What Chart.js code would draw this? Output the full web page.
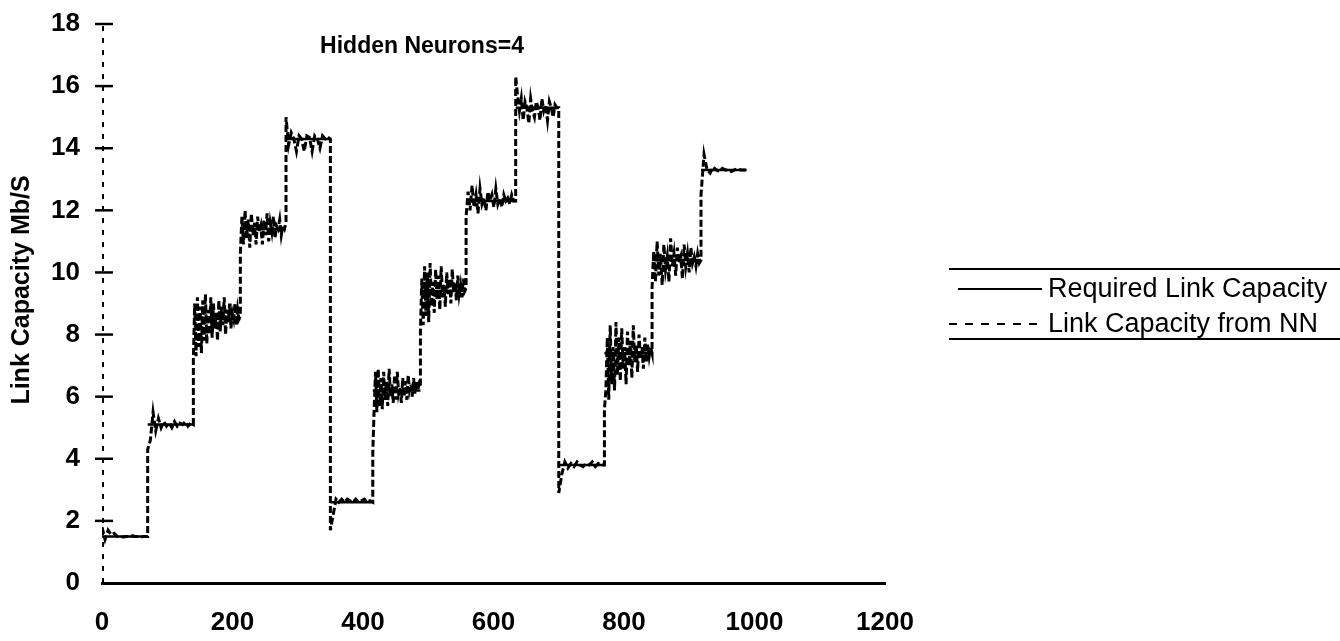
<!DOCTYPE html>
<html>
<head>
<meta charset="utf-8">
<script src="https://cdn.jsdelivr.net/npm/chart.js@4.4.1/dist/chart.umd.min.js"></script>
<style>
  body { margin: 0; background: #fff; }
  #wrap { width: 1340px; height: 641px; position: relative; }
</style>
</head>
<body>
<div id="wrap"><canvas id="myChart"></canvas></div>
<script>
// step start times, last step ends at stepEnd
var stepStart = [0, 70, 140, 212, 282, 350, 415, 488, 558, 634, 700, 770, 843, 918];
var stepEnd = 988;
// required link capacity for each step (Mb/S)
var required = [1.5, 5.1, 8.5, 11.4, 14.3, 2.6, 6.2, 9.4, 12.3, 15.3, 3.8, 7.4, 10.4, 13.3];
// NN output samples
var nn1 = [1.8, 1.4, 1.7, 1.55, 1.6, 1.5, 1.5, 1.48, 1.5, 1.5, 1.52, 1.5, 1.5, 1.49, 1.5, 1.5];
var nn2 = [4.3, 4.6, 5.5, 4.9, 5.3, 5.0, 5.2, 5.05, 5.15, 5.0, 5.2, 5.05, 5.15, 5.1, 5.2, 5.05, 5.15, 5.1];
var nn3 = [7.2, 9.0, 7.3, 9.2, 7.6, 8.9, 7.4, 9.1, 7.8, 9.3, 7.7, 8.8, 8.0, 9.2, 7.9, 9.0, 8.2, 8.7, 7.8, 9.1, 8.1, 8.9, 8.3, 9.2, 8.0, 8.8, 8.4, 9.0, 8.2, 8.7, 8.5, 9.0, 8.3, 8.8, 8.5, 8.6];
var nn4 = [10.6, 11.8, 10.9, 12.0, 11.1, 11.7, 10.8, 11.9, 11.2, 11.6, 10.9, 11.8, 11.3, 11.5, 10.9, 11.7, 11.2, 11.9, 11.0, 11.6, 11.3, 11.8, 11.1, 11.5, 11.4, 11.7, 11.2, 11.5, 11.4, 11.6];
var nn5 = [15.0, 14.1, 14.5, 14.3, 13.9, 14.4, 14.3, 13.9, 14.4, 14.35, 13.9, 14.4, 14.3, 14.0, 14.4, 14.3, 14.35, 14.3];
var nn6 = [1.7, 2.2, 2.7, 2.6, 2.7, 2.6, 2.7, 2.65, 2.6, 2.7, 2.6, 2.65, 2.7, 2.6, 2.65, 2.6];
var nn7 = [4.2, 5.6, 6.8, 5.5, 6.9, 5.7, 6.6, 5.6, 6.8, 5.9, 6.5, 5.7, 6.9, 6.0, 6.4, 5.8, 6.7, 5.9, 6.8, 6.1, 6.3, 5.8, 6.6, 6.0, 6.5, 5.9, 6.7, 6.2, 6.4, 6.0, 6.6, 6.1, 6.5, 6.2, 6.4, 6.3];
var nn8 = [8.1, 9.8, 8.3, 10.2, 8.6, 10.0, 8.4, 10.3, 8.9, 9.7, 8.7, 10.1, 9.1, 9.9, 8.8, 10.2, 9.2, 9.6, 8.9, 10.0, 9.3, 9.8, 9.0, 10.1, 9.4, 9.7, 9.1, 9.9, 9.3, 9.6, 9.2, 9.8, 9.4, 9.5];
var nn9 = [11.8, 12.6, 12.0, 12.8, 12.1, 12.5, 11.9, 12.7, 12.2, 12.4, 12.0, 12.6, 12.3, 12.5, 12.1, 12.7, 12.2, 12.4, 12.1, 12.5, 12.3, 12.4, 12.2, 12.5, 12.3, 12.3];
var nn10 = [16.3, 15.7, 15.2, 15.6, 14.9, 15.5, 15.3, 14.8, 15.6, 15.2, 15.0, 15.5, 15.3, 14.9, 15.6, 15.2, 15.4, 14.9, 15.5, 15.3, 15.0, 15.4, 15.3, 15.3];
var nn11 = [2.9, 3.5, 3.9, 3.7, 3.85, 3.75, 3.9, 3.8, 3.75, 3.85, 3.8, 3.9, 3.75, 3.85, 3.8, 3.8];
var nn12 = [5.6, 6.2, 7.9, 5.9, 8.3, 6.4, 7.6, 6.2, 8.4, 6.7, 7.9, 6.5, 8.2, 6.9, 7.6, 6.4, 8.1, 7.0, 7.8, 6.6, 8.3, 7.1, 7.7, 6.8, 8.0, 7.2, 7.6, 6.9, 7.9, 7.1, 7.7, 7.3, 7.6, 7.4];
var nn13 = [9.5, 10.7, 9.7, 11.0, 9.9, 10.6, 9.6, 10.9, 10.1, 10.5, 9.7, 11.1, 10.2, 10.6, 9.9, 10.8, 10.3, 10.5, 9.8, 10.9, 10.2, 10.6, 10.0, 10.8, 10.3, 10.5, 10.2, 10.6, 10.3, 10.4];
var nn14 = [12.5, 13.8, 13.3, 13.2, 13.4, 13.3, 13.25, 13.35, 13.3, 13.3, 13.25, 13.3, 13.35, 13.3, 13.3, 13.3];
var nnSteps = [nn1, nn2, nn3, nn4, nn5, nn6, nn7, nn8, nn9, nn10, nn11, nn12, nn13, nn14];

var xTicks = [0, 200, 400, 600, 800, 1000, 1200];
var yTicks = [0, 2, 4, 6, 8, 10, 12, 14, 16, 18];

// build point lists
var reqPoints = [];
var nnPoints = [];
for (var i = 0; i < stepStart.length; i++) {
	var s = stepStart[i];
	var e = (i + 1 < stepStart.length) ? stepStart[i + 1] : stepEnd;
	reqPoints.push({x: s, y: required[i]});
	reqPoints.push({x: e, y: required[i]});
	reqPoints.push({x: e, y: null});
	var vals = nnSteps[i];
	for (var j = 0; j < vals.length; j++) {
		nnPoints.push({x: s + (e - s) * j / (vals.length - 1), y: vals[j]});
	}
}

var font = '"Liberation Sans", Arial, Helvetica, sans-serif';

var extras = {
	id: 'extras',
	afterDraw: function(chart) {
		var ctx = chart.ctx;
		var xs = chart.scales.x, ys = chart.scales.y;
		var x0 = xs.getPixelForValue(0);
		ctx.save();
		// dashed y axis
		ctx.strokeStyle = '#000';
		ctx.lineWidth = 2;
		ctx.setLineDash([5, 7]);
		ctx.beginPath();
		ctx.moveTo(x0 + 1, ys.getPixelForValue(0));
		ctx.lineTo(x0 + 1, ys.getPixelForValue(18));
		ctx.stroke();
		ctx.setLineDash([]);
		// tick marks crossing the axis
		ctx.lineWidth = 2.5;
		yTicks.forEach(function(v) {
			if (v === 0) return;
			var y = ys.getPixelForValue(v);
			ctx.beginPath();
			ctx.moveTo(x0 - 7, y);
			ctx.lineTo(x0 + 11, y);
			ctx.stroke();
		});
		ctx.fillStyle = '#000';
		// y axis title
		ctx.save();
		ctx.translate(22, 290);
		ctx.rotate(-Math.PI / 2);
		ctx.font = 'bold 25px ' + font;
		ctx.textAlign = 'center';
		ctx.textBaseline = 'middle';
		ctx.fillText('Link Capacity Mb/S', 0, 0);
		ctx.restore();
		// inner title
		ctx.font = 'bold 23px ' + font;
		ctx.textAlign = 'center';
		ctx.textBaseline = 'middle';
		ctx.fillText('Hidden Neurons=4', 422, 47);
		// legend
		ctx.lineWidth = 2;
		ctx.beginPath();
		ctx.moveTo(949, 269); ctx.lineTo(1340, 269);
		ctx.moveTo(949, 339); ctx.lineTo(1340, 339);
		ctx.stroke();
		ctx.beginPath();
		ctx.moveTo(958, 289); ctx.lineTo(1042, 289);
		ctx.stroke();
		ctx.setLineDash([8, 8]);
		ctx.beginPath();
		ctx.moveTo(949, 324); ctx.lineTo(1042, 324);
		ctx.stroke();
		ctx.setLineDash([]);
		ctx.font = '27px ' + font;
		ctx.textAlign = 'left';
		ctx.fillText('Required Link Capacity', 1048, 290);
		ctx.fillText('Link Capacity from NN', 1048, 325);
		ctx.restore();
	}
};

var ctx = document.getElementById('myChart').getContext('2d');
var chart = new Chart(ctx, {
	type: 'line',
	data: {
		datasets: [{
			label: 'Required Link Capacity',
			data: reqPoints,
			borderColor: '#000',
			borderWidth: 2.5,
			pointRadius: 0,
			spanGaps: false,
			tension: 0
		}, {
			label: 'Link Capacity from NN',
			data: nnPoints,
			borderColor: '#000',
			borderWidth: 3,
			borderDash: [7, 3],
			pointRadius: 0,
			tension: 0
		}]
	},
	options: {
		responsive: true,
		maintainAspectRatio: false,
		animation: false,
		layout: { padding: { top: 24, right: 455, left: 0, bottom: 0 } },
		plugins: { legend: { display: false }, tooltip: { enabled: false } },
		scales: {
			x: {
				type: 'linear',
				min: 0, max: 1200,
				afterBuildTicks: function(scale) { scale.ticks = xTicks.map(function(v) { return {value: v}; }); },
				afterFit: function(scale) { scale.height = 58; },
				grid: { display: false },
				border: { display: true, color: '#000', width: 3 },
				ticks: {
					color: '#000', padding: 16, maxRotation: 0,
					callback: function(v) { return String(v); },
					font: { family: font, size: 26, weight: 'bold' }
				}
			},
			y: {
				min: 0, max: 18,
				afterBuildTicks: function(scale) { scale.ticks = yTicks.map(function(v) { return {value: v}; }); },
				afterFit: function(scale) {
					scale.width = 102;
					scale.paddingTop = 0;
					scale.paddingBottom = 0;
				},
				grid: { display: false },
				border: { display: false },
				ticks: { color: '#000', padding: 14, font: { family: font, size: 26, weight: 'bold' } }
			}
		}
	},
	plugins: [extras]
});
</script>
</body>
</html>
